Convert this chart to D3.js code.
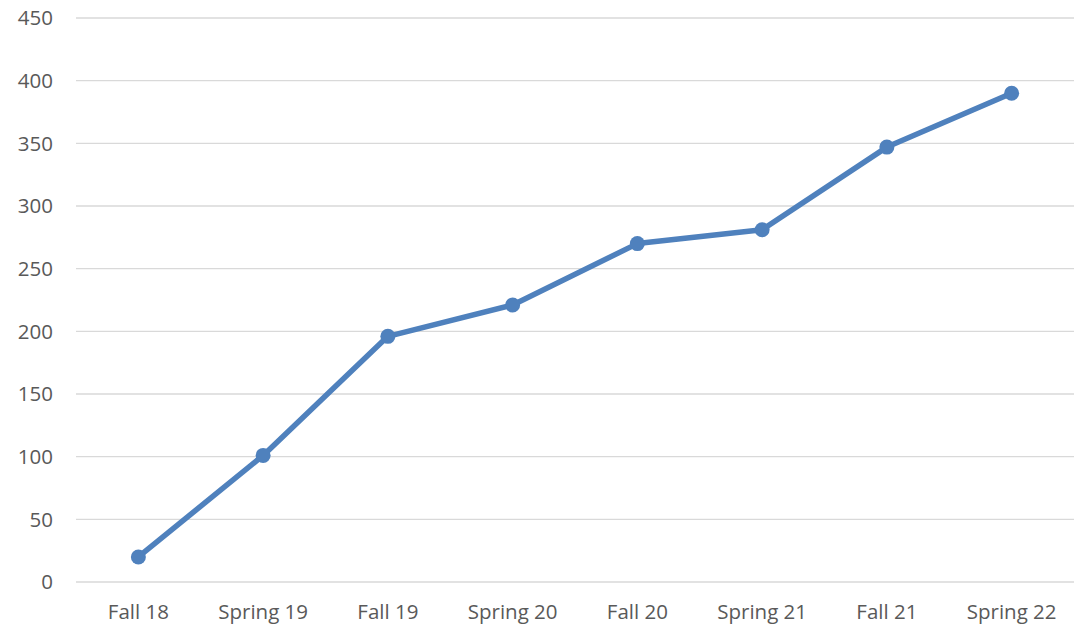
<!DOCTYPE html>
<html>
<head>
<meta charset="utf-8">
<script src="https://cdn.jsdelivr.net/npm/d3@7"></script>
<style>
  body { margin: 0; background: #fff; }
  .axis text { font-family: "Open Sans", sans-serif; font-size: 20.5px; fill: #595959; }
  .grid line { stroke: #d9d9d9; stroke-width: 1.3; }
</style>
</head>
<body>
<svg id="chart" width="1081" height="626"></svg>
<script>
var terms = ['Fall 18', 'Spring 19', 'Fall 19', 'Spring 20', 'Fall 20', 'Spring 21', 'Fall 21', 'Spring 22'];
var counts = [20, 101, 196, 221, 270, 281, 347, 390];
var yTicks = [0, 50, 100, 150, 200, 250, 300, 350, 400, 450];

var plotLeft = 76, plotRight = 1074, plotTop = 18, plotBottom = 582;
var svg = d3.select('#chart');

var x = d3.scaleBand().domain(terms).range([plotLeft, plotRight]);
var y = d3.scaleLinear().domain([0, 450]).range([plotBottom, plotTop]);

// gridlines
svg.append('g')
   .attr('class', 'grid')
   .selectAll('line')
   .data(yTicks)
   .enter()
   .append('line')
   .attr('x1', plotLeft)
   .attr('x2', plotRight)
   .attr('y1', function(d) { return y(d); })
   .attr('y2', function(d) { return y(d); });

// y labels
svg.append('g')
   .attr('class', 'axis')
   .selectAll('text')
   .data(yTicks)
   .enter()
   .append('text')
   .attr('x', 53)
   .attr('y', function(d) { return y(d); })
   .attr('dy', '0.35em')
   .attr('text-anchor', 'end')
   .text(function(d) { return d; });

// x labels
svg.append('g')
   .attr('class', 'axis')
   .selectAll('text')
   .data(terms)
   .enter()
   .append('text')
   .attr('x', function(d) { return x(d) + x.bandwidth() / 2; })
   .attr('y', 619)
   .attr('text-anchor', 'middle')
   .text(function(d) { return d; });

var line = d3.line()
   .x(function(d, i) { return x(terms[i]) + x.bandwidth() / 2; })
   .y(function(d) { return y(d); });

svg.append('path')
   .datum(counts)
   .attr('d', line)
   .attr('fill', 'none')
   .attr('stroke', '#4f81bd')
   .attr('stroke-width', 5.5)
   .attr('stroke-linejoin', 'round');

svg.selectAll('.dot')
   .data(counts)
   .enter()
   .append('circle')
   .attr('class', 'dot')
   .attr('cx', function(d, i) { return x(terms[i]) + x.bandwidth() / 2; })
   .attr('cy', function(d) { return y(d); })
   .attr('r', 7.5)
   .attr('fill', '#4f81bd');
</script>
</body>
</html>
